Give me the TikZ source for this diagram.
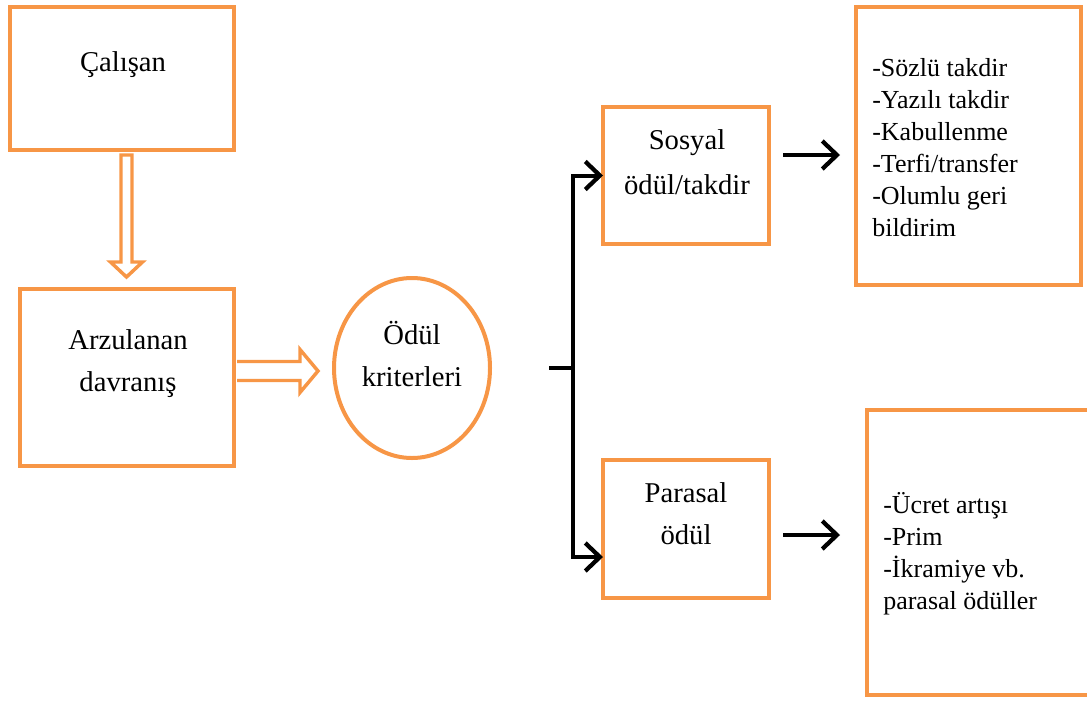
\documentclass[tikz,border=0pt]{standalone}
\usepackage{fontspec}
\setmainfont{Liberation Serif}
\usetikzlibrary{arrows.meta,calc,shapes.geometric}
\definecolor{accent}{HTML}{F79646}
\begin{document}
\begin{tikzpicture}[x=0.75pt,y=-0.75pt,
  box/.style={draw=accent,line width=3pt,rectangle,inner sep=0pt,outer sep=0pt},
  oval/.style={draw=accent,line width=3pt,ellipse,inner sep=0pt,outer sep=0pt},
  hollow/.style={draw=accent,line width=2.6pt,line join=miter,fill=white},
  link/.style={draw=black,line width=3pt},
  tip/.style={-{Straight Barb[length=11pt,width=21pt,line width=3.2pt]}},
  label/.style={align=center,inner sep=0pt},
  list/.style={align=left,anchor=west,inner sep=0pt,font=\fontsize{19.5}{24}\selectfont}]
\useasboundingbox (0,0) rectangle (1087,700);

% boxes
\node[box,minimum width=168pt,minimum height=107.25pt] (calisan) at (122,78.5) {};
\node[box,minimum width=160.5pt,minimum height=132.75pt] (arzu) at (127,377.5) {};
\node[oval,minimum width=117pt,minimum height=135pt] (kriter) at (412,368) {};
\node[box,minimum width=124.5pt,minimum height=102.75pt] (sosyal) at (686,175.5) {};
\node[box,minimum width=124.5pt,minimum height=103.5pt] (parasal) at (686,529) {};
\node[box,minimum width=168.75pt,minimum height=208.5pt] (sozlu) at (968.5,146) {};
\node[box,minimum width=171pt,minimum height=213.75pt] (ucret) at (981,552.5) {};

% texts
\node[label,font=\fontsize{21.5}{24}\selectfont] (calisanT) at (123,65) {Çalışan};
\node[label,font=\fontsize{21.5}{31.5}\selectfont] (arzuT) at (128,364) {Arzulanan\\davranış};
\node[label,font=\fontsize{21.5}{32}\selectfont] (kriterT) at (412,354) {Ödül\\kriterleri};
\node[label,font=\fontsize{21.5}{33.75}\selectfont] (sosyalT) at (687,162) {Sosyal\\ödül/takdir};
\node[label,font=\fontsize{21.5}{31.5}\selectfont] (parasalT) at (686,514) {Parasal\\ödül};
\node[list] (sozluT) at (872,148) {-Sözlü takdir\\-Yazılı takdir\\-Kabullenme\\-Terfi/transfer\\-Olumlu geri\\bildirim};
\node[list] (ucretT) at (883,554) {-Ücret artışı\\-Prim\\-İkramiye vb.\\parasal ödüller};

% hollow block arrows
\coordinate (dTop) at ($(calisan.south)+(4.5,5)$);
\coordinate (dTip) at ($(dTop |- arzu.north)+(0,-12)$);
\draw[hollow] ($(dTop)+(-5.5,0)$) -- ($(dTip)+(-5.5,-15)$) -- ($(dTip)+(-16,-15)$)
  -- (dTip) -- ($(dTip)+(16,-15)$) -- ($(dTip)+(5.5,-15)$) -- ($(dTop)+(5.5,0)$) -- cycle;

\coordinate (rTop) at ($(arzu.east)+(3,-6.5)$);
\coordinate (rTip) at ($(rTop -| kriter.west)+(-16,0)$);
\draw[hollow] ($(rTop)+(0,-9.5)$) -- ($(rTip)+(-18,-9.5)$) -- ($(rTip)+(-18,-21.5)$)
  -- (rTip) -- ($(rTip)+(-18,21.5)$) -- ($(rTip)+(-18,9.5)$) -- ($(rTop)+(0,9.5)$);

% branch connectors
\coordinate (bStart) at ($(kriter.east)+(59,0)$);
\coordinate (bJoin) at ($(kriter.east)+(83,0)$);
\draw[link] (bStart) -- (bJoin);
\draw[link,tip] (bJoin) |- (sosyal.west);
\draw[link,tip] (bJoin) |- ($(parasal.west)+(0,28)$);

% result arrows
\coordinate (s1) at ($(sosyal.east)+(14,-20.5)$);
\coordinate (s2) at ($(s1 -| sozlu.west)+(-16,0)$);
\draw[link,tip] (s1) -- (s2);
\coordinate (p1) at ($(parasal.east)+(14,6)$);
\coordinate (p2) at ($(p1 -| ucret.west)+(-27,0)$);
\draw[link,tip] (p1) -- (p2);
\end{tikzpicture}
\end{document}
